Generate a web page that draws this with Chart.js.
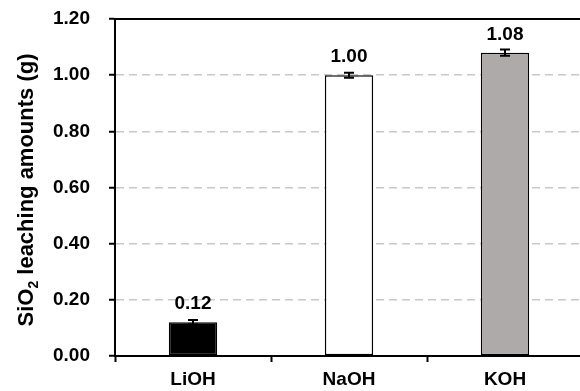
<!DOCTYPE html>
<html lang="en">
<head>
  <meta charset="UTF-8" />
  <title>SiO2 leaching amounts</title>
  <script src="https://cdn.jsdelivr.net/npm/chart.js"></script>
  <style>
    html, body { margin: 0; padding: 0; background: #fff; overflow: hidden; }
    #wrap { width: 580px; height: 391px; overflow: hidden; }
  </style>
</head>
<body>
  <div id="wrap">
    <canvas id="barChart" width="583" height="391"></canvas>
  </div>

  <script>
    // data
    const categories = ['LiOH', 'NaOH', 'KOH'];
    const leaching = [0.12, 1.00, 1.08];
    const errors = [0.008, 0.009, 0.011];
    const barColors = ['#000000', '#ffffff', '#aeaaaa'];
    const yTicks = [0, 0.2, 0.4, 0.6, 0.8, 1.0, 1.2];

    const FONT = 'Arial, "Liberation Sans", sans-serif';

    // error bars + value labels above each bar
    const barExtras = {
      id: 'barExtras',
      afterDatasetsDraw(chart) {
        const ctx = chart.ctx;
        const y = chart.scales.y;
        const meta = chart.getDatasetMeta(0);
        ctx.save();
        meta.data.forEach((bar, i) => {
          const v = leaching[i];
          const top = y.getPixelForValue(v + errors[i]);
          const bot = y.getPixelForValue(v - errors[i]);
          ctx.strokeStyle = '#000';
          ctx.lineWidth = 2;
          ctx.beginPath();
          ctx.moveTo(bar.x, top); ctx.lineTo(bar.x, bot);
          ctx.moveTo(bar.x - 5, top); ctx.lineTo(bar.x + 5, top);
          ctx.moveTo(bar.x - 5, bot); ctx.lineTo(bar.x + 5, bot);
          ctx.stroke();

          ctx.fillStyle = '#000';
          ctx.font = 'bold 19px ' + FONT;
          ctx.textAlign = 'center';
          ctx.textBaseline = 'alphabetic';
          ctx.fillText(v.toFixed(2), bar.x, y.getPixelForValue(v) - 13);
        });
        ctx.restore();
      }
    };

    // top frame line + y title with subscript
    const frameAndTitle = {
      id: 'frameAndTitle',
      afterDraw(chart) {
        const ctx = chart.ctx;
        const a = chart.chartArea;
        ctx.save();
        ctx.strokeStyle = '#000';
        ctx.lineWidth = 2;
        ctx.beginPath();
        ctx.moveTo(a.left, a.top);
        ctx.lineTo(a.right, a.top);
        ctx.stroke();

        const big = 'bold 22px ' + FONT;
        const small = 'bold 14px ' + FONT;
        const parts = [['SiO', big, 0], ['2', small, 5], [' leaching amounts (g)', big, 0]];
        let total = 0;
        parts.forEach(p => { ctx.font = p[1]; total += ctx.measureText(p[0]).width; });
        ctx.translate(33, 190);
        ctx.rotate(-Math.PI / 2);
        ctx.fillStyle = '#000';
        ctx.textBaseline = 'alphabetic';
        ctx.textAlign = 'left';
        let x = -total / 2;
        parts.forEach(p => {
          ctx.font = p[1];
          ctx.fillText(p[0], x, p[2]);
          x += ctx.measureText(p[0]).width;
        });
        ctx.restore();
      }
    };

    new Chart(document.getElementById('barChart').getContext('2d'), {
      type: 'bar',
      data: {
        labels: categories,
        datasets: [{
          data: leaching,
          backgroundColor: barColors,
          borderColor: '#000',
          borderWidth: 1.5,
          borderSkipped: false,
          categoryPercentage: 1,
          barPercentage: 0.31
        }]
      },
      options: {
        responsive: false,
        animation: false,
        devicePixelRatio: 1,
        layout: { padding: { top: 19, left: 0, right: 0, bottom: 0 } },
        plugins: {
          legend: { display: false },
          tooltip: { enabled: false }
        },
        scales: {
          x: {
            offset: true,
            grid: {
              offset: true,
              drawOnChartArea: false,
              tickLength: 6,
              tickColor: '#000',
              tickWidth: 2
            },
            border: { color: '#000', width: 2 },
            ticks: {
              color: '#000',
              padding: 6,
              font: { family: FONT, size: 19, weight: 'bold' }
            },
            afterFit(scale) { scale.height = 35; }
          },
          y: {
            min: 0,
            max: 1.2,
            afterBuildTicks(scale) { scale.ticks = yTicks.map(v => ({ value: v })); },
            grid: {
              color: (c) => (c.tick && (c.tick.value === 0 || c.tick.value === 1.2)) ? 'rgba(0,0,0,0)' : '#c8c8c8',
              lineWidth: 1.5,
              tickLength: 6,
              tickColor: '#000',
              tickWidth: 2
            },
            border: { color: '#000', width: 2, dash: [8, 5] },
            ticks: {
              color: '#000',
              padding: 19,
              font: { family: FONT, size: 19, weight: 'bold' },
              callback: (v) => Number(v).toFixed(2)
            },
            afterFit(scale) {
              scale.width = 115;
              scale.paddingTop = 0;
              scale.paddingBottom = 0;
            }
          }
        }
      },
      plugins: [barExtras, frameAndTitle]
    });
  </script>
</body>
</html>
